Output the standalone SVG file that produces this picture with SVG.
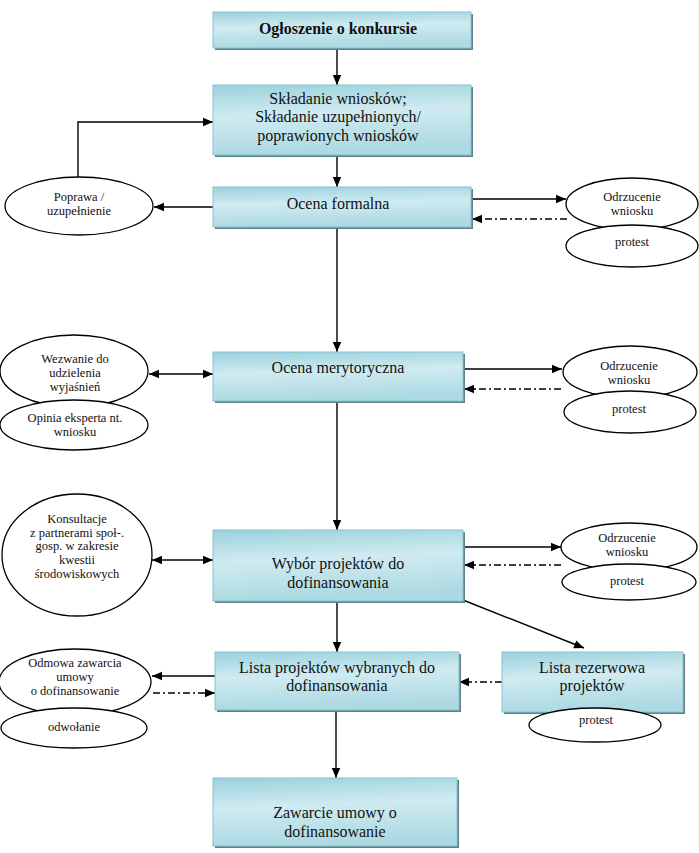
<svg xmlns="http://www.w3.org/2000/svg" width="699" height="853" viewBox="0 0 699 853">
<defs>
<linearGradient id="bx" x1="0" y1="0" x2="0.15" y2="1">
<stop offset="0" stop-color="#9bd1dc"/>
<stop offset="0.45" stop-color="#d0ebf1"/>
<stop offset="1" stop-color="#acd9e2"/>
</linearGradient>
<marker id="ah" markerUnits="userSpaceOnUse" markerWidth="10" markerHeight="10" viewBox="0 0 10 10" refX="10" refY="5" orient="auto-start-reverse">
<path d="M0,0.8 L10,5 L0,9.2 Z" fill="#000"/>
</marker>
<style>
.box{fill:url(#bx);stroke:#86c4cf;stroke-width:1}
.sh{fill:#62808a}
.el{fill:#fff;stroke:#000;stroke-width:1.3}
.t{font-family:"Liberation Serif","Times New Roman","DejaVu Serif",serif;fill:#111;text-anchor:middle}
.tb{font-size:16px}
.te{font-size:12.5px}
.c{fill:none;stroke:#000;stroke-width:1.4}
.a{marker-end:url(#ah)}
.d{stroke-dasharray:7 3 2 3}
</style>
</defs>
<rect width="699" height="853" fill="#fff"/>

<g id="connectors">
<path class="c a" d="M337,48 V85"/>
<path class="c a" d="M337,155 V187"/>
<path class="c a" d="M213,207 H154"/>
<path class="c a" d="M78,177 V122 H213"/>
<path class="c a" d="M471,199 H566"/>
<path class="c a d" d="M567,219 H472"/>
<path class="c a" d="M337,227 V352"/>
<path class="c a" d="M149,374 H213" marker-start="url(#ah)"/>
<path class="c a" d="M463,369 H562"/>
<path class="c a d" d="M561,389 H464"/>
<path class="c a" d="M337,401 V530"/>
<path class="c a" d="M152,560 H213" marker-start="url(#ah)"/>
<path class="c a" d="M463,547 H561"/>
<path class="c a d" d="M561,565 H464"/>
<path class="c a" d="M463,600 L584,648"/>
<path class="c a" d="M337,601 V652"/>
<path class="c a" d="M215,676 H152"/>
<path class="c a d" d="M153,693 H215"/>
<path class="c a d" d="M502,682 H459"/>
<path class="c a" d="M336,710 V778"/>
</g>

<g id="n1"><rect class="sh" x="215" y="14" width="258" height="36"/><rect class="box" x="213" y="12" width="258" height="36"/>
<text class="t tb" x="338" y="34" font-weight="bold">Ogłoszenie o konkursie</text></g>

<g id="n2"><rect class="sh" x="215" y="87" width="258" height="70"/><rect class="box" x="213" y="85" width="258" height="70"/>
<text class="t tb" x="338" y="104">Składanie wniosków;</text>
<text class="t tb" x="338" y="122">Składanie uzupełnionych/</text>
<text class="t tb" x="338" y="141">poprawionych wniosków</text></g>

<g id="n3"><rect class="sh" x="215" y="189" width="258" height="40"/><rect class="box" x="213" y="187" width="258" height="40"/>
<text class="t tb" x="338" y="209">Ocena formalna</text></g>

<g id="n4"><rect class="sh" x="215" y="354" width="250" height="49"/><rect class="box" x="213" y="352" width="250" height="49"/>
<text class="t tb" x="338" y="373">Ocena merytoryczna</text></g>

<g id="n5"><rect class="sh" x="215" y="532" width="250" height="71"/><rect class="box" x="213" y="530" width="250" height="71"/>
<text class="t tb" x="338" y="569">Wybór projektów do</text>
<text class="t tb" x="338" y="588">dofinansowania</text></g>

<g id="n6"><rect class="sh" x="217" y="654" width="244" height="58"/><rect class="box" x="215" y="652" width="244" height="58"/>
<text class="t tb" x="337" y="673">Lista projektów wybranych do</text>
<text class="t tb" x="337" y="691">dofinansowania</text></g>

<g id="n7"><rect class="sh" x="504" y="654" width="181" height="60"/><rect class="box" x="502" y="652" width="181" height="60"/>
<text class="t tb" x="592" y="673">Lista rezerwowa</text>
<text class="t tb" x="592" y="691">projektów</text></g>

<g id="n8"><rect class="sh" x="215" y="780" width="244" height="68"/><rect class="box" x="213" y="778" width="244" height="68"/>
<text class="t tb" x="335" y="818">Zawarcie umowy o</text>
<text class="t tb" x="335" y="837">dofinansowanie</text></g>

<g id="e-poprawa"><ellipse class="el" cx="79" cy="206" rx="74" ry="29"/>
<text class="t te" x="79" y="201">Poprawa /</text>
<text class="t te" x="79" y="215">uzupełnienie</text></g>

<g id="e-odrz1"><ellipse class="el" cx="632" cy="204" rx="66" ry="26"/>
<text class="t te" x="632" y="201">Odrzucenie</text>
<text class="t te" x="632" y="215">wniosku</text></g>
<g id="e-prot1"><ellipse class="el" cx="632" cy="246" rx="66" ry="21"/>
<text class="t te" x="632" y="246">protest</text></g>

<g id="e-wezw"><ellipse class="el" cx="74" cy="371" rx="74" ry="36"/>
<text class="t te" x="75" y="363">Wezwanie do</text>
<text class="t te" x="75" y="377">udzielenia</text>
<text class="t te" x="75" y="391">wyjaśnień</text></g>
<g id="e-opinia"><ellipse class="el" cx="74" cy="425" rx="74" ry="25"/>
<text class="t te" x="75" y="422">Opinia eksperta nt.</text>
<text class="t te" x="75" y="436">wniosku</text></g>

<g id="e-odrz2"><ellipse class="el" cx="630" cy="372" rx="67" ry="26"/>
<text class="t te" x="629" y="370">Odrzucenie</text>
<text class="t te" x="629" y="384">wniosku</text></g>
<g id="e-prot2"><ellipse class="el" cx="630" cy="412" rx="66" ry="21"/>
<text class="t te" x="629" y="413">protest</text></g>

<g id="e-konsult"><ellipse class="el" cx="77" cy="555" rx="75" ry="61"/>
<text class="t te" x="77" y="523">Konsultacje</text>
<text class="t te" x="77" y="537">z partnerami społ-.</text>
<text class="t te" x="77" y="550">gosp. w zakresie</text>
<text class="t te" x="77" y="564">kwestii</text>
<text class="t te" x="77" y="578">środowiskowych</text></g>

<g id="e-odrz3"><ellipse class="el" cx="629" cy="547" rx="68" ry="24"/>
<text class="t te" x="627" y="542">Odrzucenie</text>
<text class="t te" x="627" y="556">wniosku</text></g>
<g id="e-prot3"><ellipse class="el" cx="629" cy="582" rx="67" ry="18"/>
<text class="t te" x="627" y="585">protest</text></g>

<g id="e-odmowa"><ellipse class="el" cx="75" cy="682" rx="76" ry="33"/>
<text class="t te" x="75" y="667">Odmowa zawarcia</text>
<text class="t te" x="75" y="681">umowy</text>
<text class="t te" x="75" y="695">o dofinansowanie</text></g>
<g id="e-odwol"><ellipse class="el" cx="74" cy="728" rx="73" ry="20"/>
<text class="t te" x="74" y="731">odwołanie</text></g>

<g id="e-prot4"><ellipse class="el" cx="595" cy="725" rx="66" ry="17"/>
<text class="t te" x="596" y="724">protest</text></g>
</svg>
